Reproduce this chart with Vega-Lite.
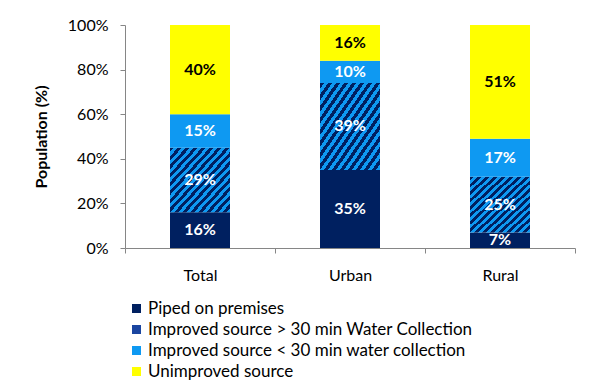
{
  "$schema": "https://vega.github.io/schema/vega-lite/v6.json",
  "autosize": {"type": "none"},
  "padding": {"left": 125, "top": 25, "right": 24, "bottom": 135},
  "width": 450,
  "height": 223,
  "background": "white",
  "config": {"font": "Lato", "view": {"stroke": null}},
  "data": {"values": [
    {"area": "Total", "series": "Piped on premises", "rank": 1, "value": 0.16},
    {"area": "Total", "series": "Improved source > 30 min Water Collection", "rank": 2, "value": 0.29},
    {"area": "Total", "series": "Improved source < 30 min water collection", "rank": 3, "value": 0.15},
    {"area": "Total", "series": "Unimproved source", "rank": 4, "value": 0.40},
    {"area": "Urban", "series": "Piped on premises", "rank": 1, "value": 0.35},
    {"area": "Urban", "series": "Improved source > 30 min Water Collection", "rank": 2, "value": 0.39},
    {"area": "Urban", "series": "Improved source < 30 min water collection", "rank": 3, "value": 0.10},
    {"area": "Urban", "series": "Unimproved source", "rank": 4, "value": 0.16},
    {"area": "Rural", "series": "Piped on premises", "rank": 1, "value": 0.07},
    {"area": "Rural", "series": "Improved source > 30 min Water Collection", "rank": 2, "value": 0.25},
    {"area": "Rural", "series": "Improved source < 30 min water collection", "rank": 3, "value": 0.17},
    {"area": "Rural", "series": "Unimproved source", "rank": 4, "value": 0.51}
  ]},
  "transform": [
    {"stack": "value", "groupby": ["area"], "sort": [{"field": "rank", "order": "ascending"}], "as": ["y0", "y1"]}
  ],
  "layer": [
    {
      "mark": {"type": "bar", "width": {"band": 0.4}},
      "encoding": {
        "x": {"field": "area", "type": "nominal", "sort": ["Total", "Urban", "Rural"],
          "scale": {"paddingInner": 0, "paddingOuter": 0},
          "axis": {"title": null, "labelAngle": 0, "labelFontSize": 16, "labelColor": "black", "domainColor": "#868686", "tickColor": "#868686", "tickSize": 5, "tickBand": "extent", "labelPadding": 14}},
        "y": {"field": "y0", "type": "quantitative", "scale": {"domain": [0, 1]},
          "axis": {"values": [0, 0.2, 0.4, 0.6, 0.8, 1], "format": ".0%", "title": "Population (%)", "titleFontWeight": "bold", "titleFontSize": 16, "titleColor": "black", "labelFontSize": 16, "labelColor": "black", "domainColor": "#868686", "tickColor": "#868686", "tickSize": 5, "labelPadding": 12, "grid": false, "titlePadding": 18}},
        "y2": {"field": "y1"},
        "color": {
          "condition": {"test": "datum.series === 'Improved source > 30 min Water Collection'",
            "value": {"gradient": "linear", "x1": 0, "y1": 0, "x2": 1, "y2": 1, "stops": [
              {"offset": 0, "color": "#002060"}, {"offset": 0.0333, "color": "#002060"},
              {"offset": 0.0333, "color": "#0E99F2"}, {"offset": 0.0667, "color": "#0E99F2"},
              {"offset": 0.0667, "color": "#002060"}, {"offset": 0.1, "color": "#002060"},
              {"offset": 0.1, "color": "#0E99F2"}, {"offset": 0.1333, "color": "#0E99F2"},
              {"offset": 0.1333, "color": "#002060"}, {"offset": 0.1667, "color": "#002060"},
              {"offset": 0.1667, "color": "#0E99F2"}, {"offset": 0.2, "color": "#0E99F2"},
              {"offset": 0.2, "color": "#002060"}, {"offset": 0.2333, "color": "#002060"},
              {"offset": 0.2333, "color": "#0E99F2"}, {"offset": 0.2667, "color": "#0E99F2"},
              {"offset": 0.2667, "color": "#002060"}, {"offset": 0.3, "color": "#002060"},
              {"offset": 0.3, "color": "#0E99F2"}, {"offset": 0.3333, "color": "#0E99F2"},
              {"offset": 0.3333, "color": "#002060"}, {"offset": 0.3667, "color": "#002060"},
              {"offset": 0.3667, "color": "#0E99F2"}, {"offset": 0.4, "color": "#0E99F2"},
              {"offset": 0.4, "color": "#002060"}, {"offset": 0.4333, "color": "#002060"},
              {"offset": 0.4333, "color": "#0E99F2"}, {"offset": 0.4667, "color": "#0E99F2"},
              {"offset": 0.4667, "color": "#002060"}, {"offset": 0.5, "color": "#002060"},
              {"offset": 0.5, "color": "#0E99F2"}, {"offset": 0.5333, "color": "#0E99F2"},
              {"offset": 0.5333, "color": "#002060"}, {"offset": 0.5667, "color": "#002060"},
              {"offset": 0.5667, "color": "#0E99F2"}, {"offset": 0.6, "color": "#0E99F2"},
              {"offset": 0.6, "color": "#002060"}, {"offset": 0.6333, "color": "#002060"},
              {"offset": 0.6333, "color": "#0E99F2"}, {"offset": 0.6667, "color": "#0E99F2"},
              {"offset": 0.6667, "color": "#002060"}, {"offset": 0.7, "color": "#002060"},
              {"offset": 0.7, "color": "#0E99F2"}, {"offset": 0.7333, "color": "#0E99F2"},
              {"offset": 0.7333, "color": "#002060"}, {"offset": 0.7667, "color": "#002060"},
              {"offset": 0.7667, "color": "#0E99F2"}, {"offset": 0.8, "color": "#0E99F2"},
              {"offset": 0.8, "color": "#002060"}, {"offset": 0.8333, "color": "#002060"},
              {"offset": 0.8333, "color": "#0E99F2"}, {"offset": 0.8667, "color": "#0E99F2"},
              {"offset": 0.8667, "color": "#002060"}, {"offset": 0.9, "color": "#002060"},
              {"offset": 0.9, "color": "#0E99F2"}, {"offset": 0.9333, "color": "#0E99F2"},
              {"offset": 0.9333, "color": "#002060"}, {"offset": 0.9667, "color": "#002060"},
              {"offset": 0.9667, "color": "#0E99F2"}, {"offset": 1, "color": "#0E99F2"}
            ]}},
          "field": "series", "type": "nominal",
          "scale": {
            "domain": ["Piped on premises", "Improved source > 30 min Water Collection", "Improved source < 30 min water collection", "Unimproved source"],
            "range": ["#002060", "#1A45A0", "#0E99F2", "#FFFF00"]},
          "legend": {
            "title": null, "orient": "none", "legendX": 3, "legendY": 275, "direction": "vertical",
            "symbolType": "square", "symbolSize": 81, "symbolStrokeWidth": 0,
            "labelFontSize": 17, "labelColor": "black", "labelLimit": 0, "rowPadding": 3, "labelOffset": 3
          }
        }
      }
    },
    {
      "transform": [{"fold": ["y0", "y1"], "as": ["k", "v"]}],
      "mark": {"type": "text", "fontWeight": "bold", "fontSize": 16, "baseline": "middle"},
      "encoding": {
        "x": {"field": "area", "type": "nominal", "sort": ["Total", "Urban", "Rural"]},
        "y": {"aggregate": "mean", "field": "v", "type": "quantitative"},
        "text": {"field": "value", "type": "quantitative", "format": ".0%"},
        "detail": {"field": "series"},
        "color": {"condition": {"test": "datum.series === 'Unimproved source'", "value": "black"}, "value": "white"}
      }
    }
  ]
}
